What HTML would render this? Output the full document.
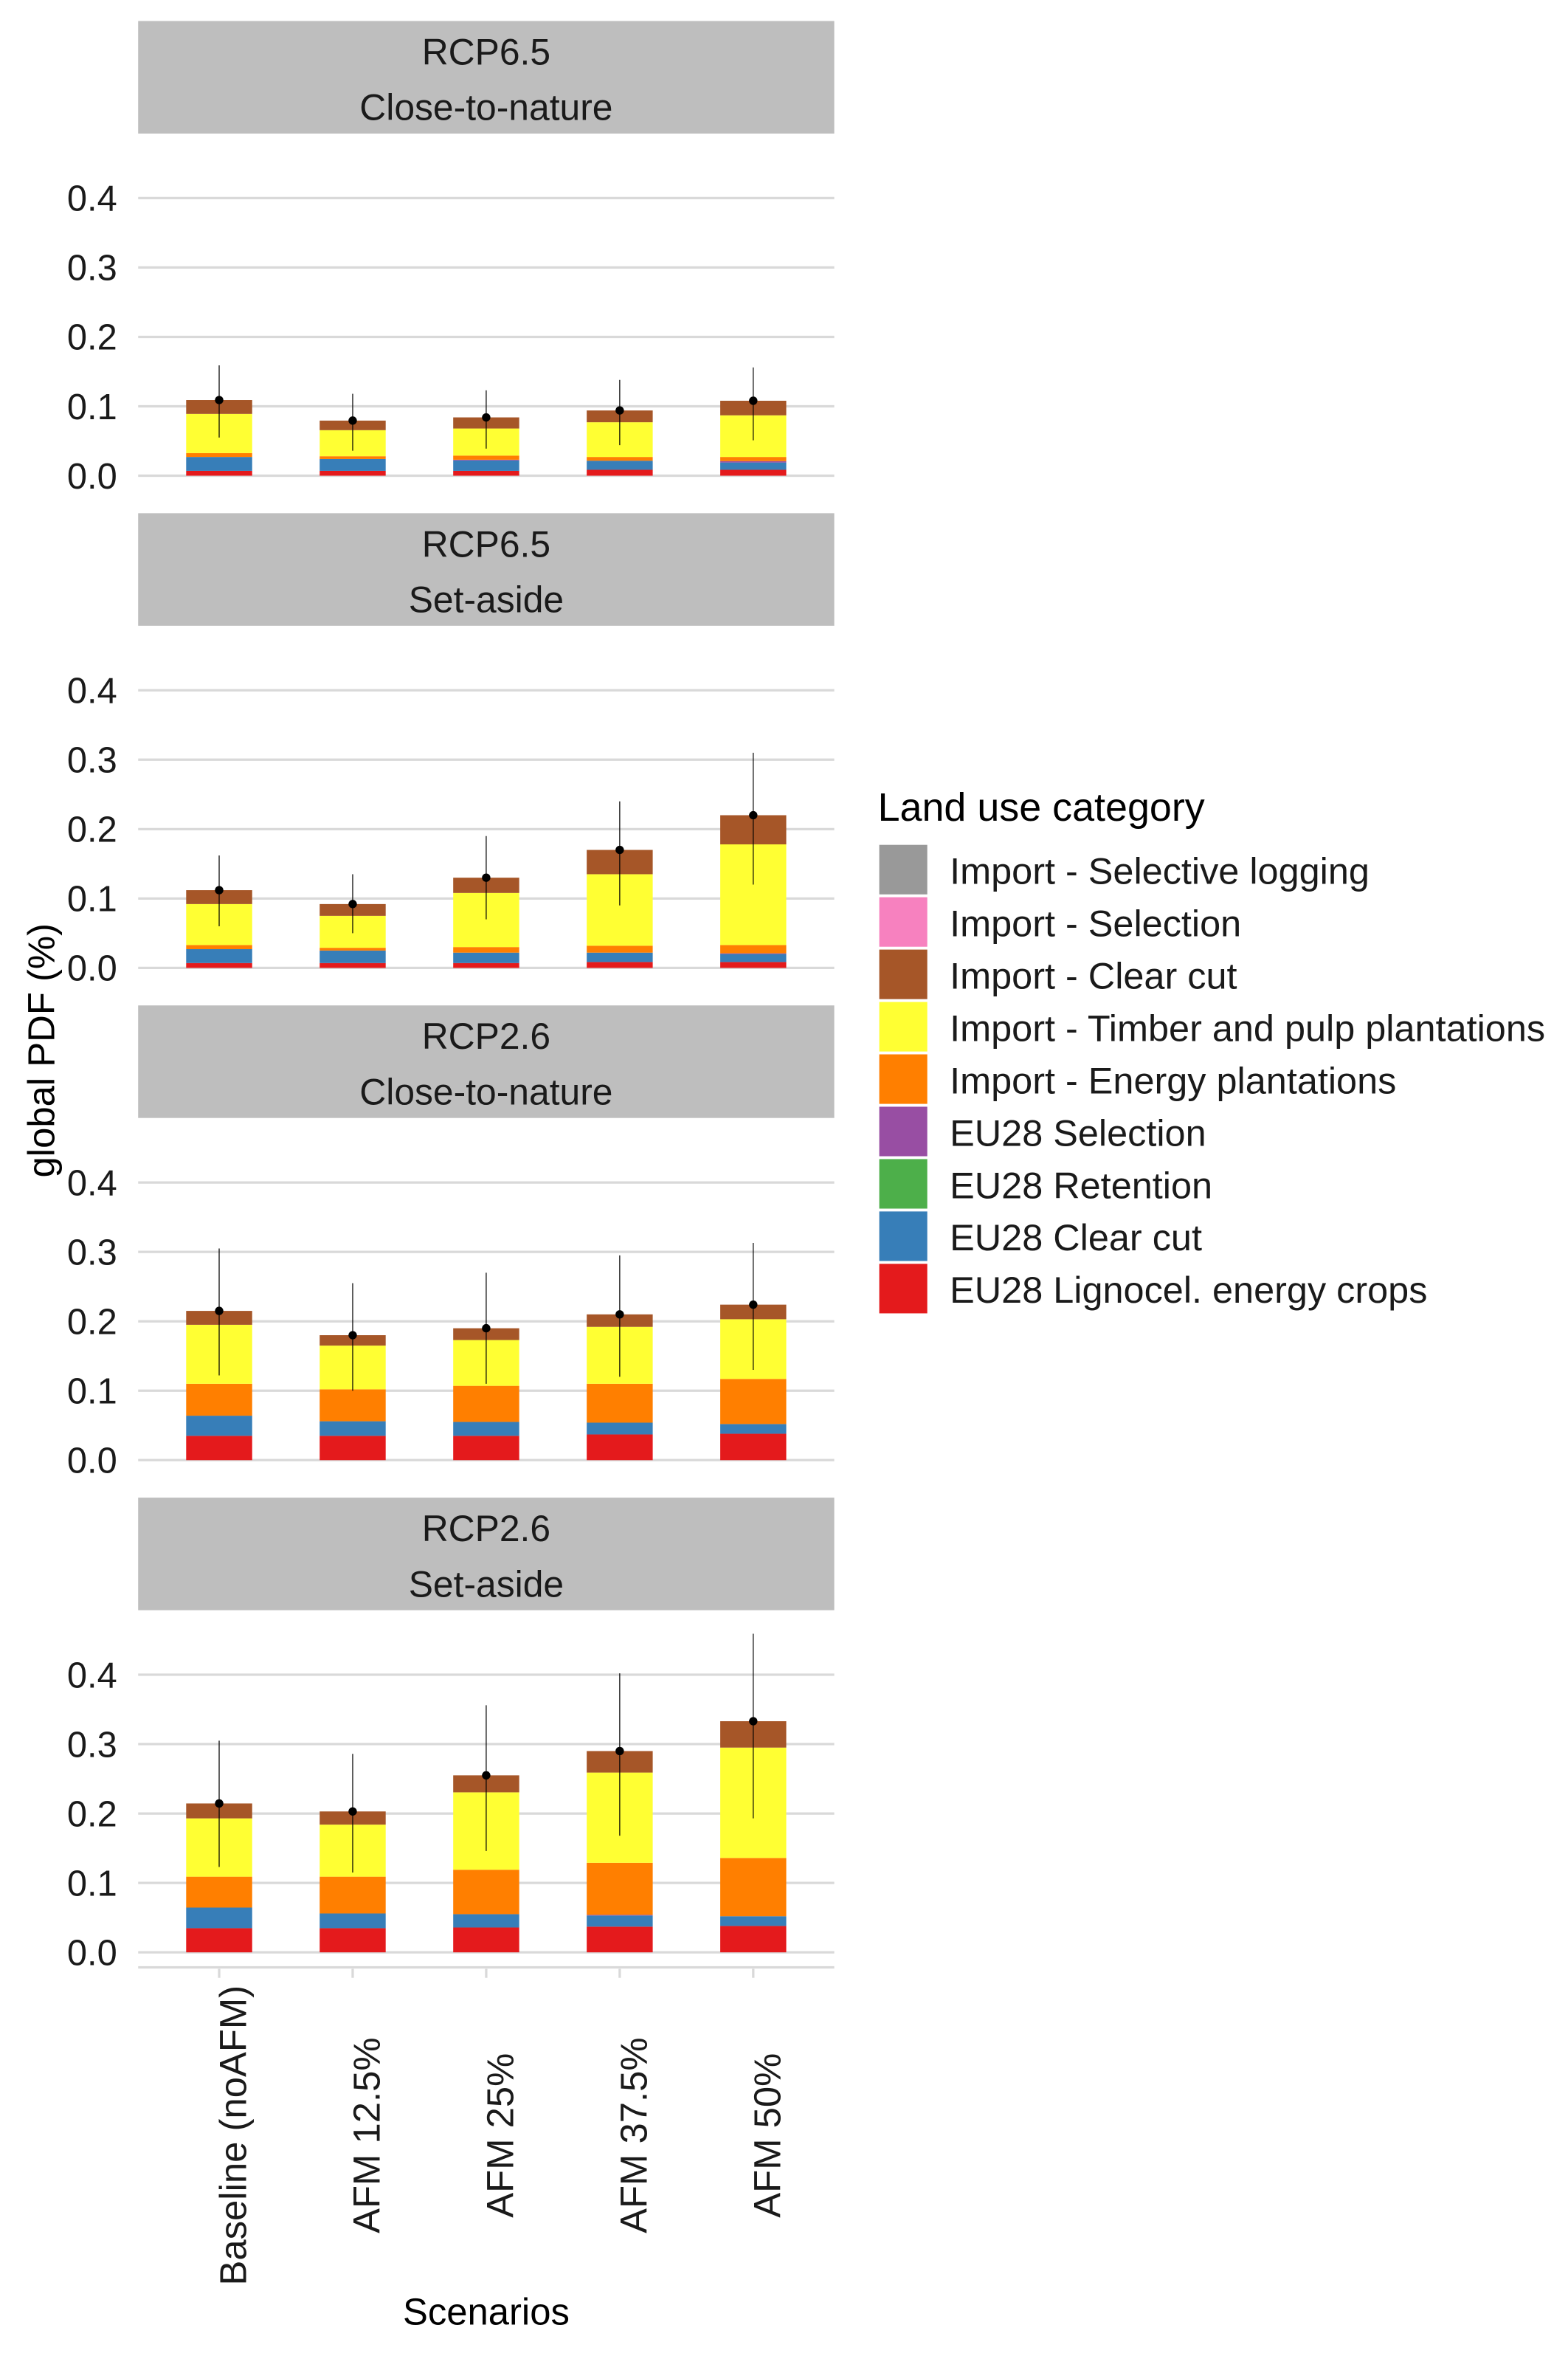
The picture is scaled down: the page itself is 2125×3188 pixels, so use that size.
<!DOCTYPE html>
<html><head><meta charset="utf-8"><style>
html,body{margin:0;padding:0;background:#fff;}
svg{display:block;font-family:"Liberation Sans",Arial,sans-serif;}
</style></head><body>
<svg id="chart" width="2125" height="3188" viewBox="0 0 1045 1568" xmlns="http://www.w3.org/2000/svg">
<g id="root"></g>
</svg>
<script>
const categories = ["Baseline (noAFM)", "AFM 12.5%", "AFM 25%", "AFM 37.5%", "AFM 50%"];
const panelTitles = [["RCP6.5","Close-to-nature"],["RCP6.5","Set-aside"],["RCP2.6","Close-to-nature"],["RCP2.6","Set-aside"]];
const yTicks = [0, 0.1, 0.2, 0.3, 0.4];
const yTickLabels = ["0.0","0.1","0.2","0.3","0.4"];
const seriesNames = ["EU28 Lignocel. energy crops","EU28 Clear cut","EU28 Retention","EU28 Selection","Import - Energy plantations","Import - Timber and pulp plantations","Import - Clear cut"];
const seriesColors = ["#E41A1C","#377EB8","#4DAF4A","#984EA3","#FF7F00","#FFFF33","#A65628"];
const legendNames = ["Import - Selective logging","Import - Selection","Import - Clear cut","Import - Timber and pulp plantations","Import - Energy plantations","EU28 Selection","EU28 Retention","EU28 Clear cut","EU28 Lignocel. energy crops"];
const legendColors = ["#999999","#F781BF","#A65628","#FFFF33","#FF7F00","#984EA3","#4DAF4A","#377EB8","#E41A1C"];
const p1Red = [0.007,0.007,0.007,0.0085,0.0085];
const p1Blue = [0.020,0.017,0.015,0.0131,0.0105];
const p1Green = [0,0,0,0,0];
const p1Purple = [0,0,0.001,0,0.002];
const p1Orange = [0.0056,0.004,0.006,0.0054,0.006];
const p1Yellow = [0.0564,0.0376,0.039,0.050,0.060];
const p1Brown = [0.020,0.0138,0.016,0.017,0.021];
const p1Hi = [0.159,0.118,0.123,0.138,0.156];
const p1Lo = [0.055,0.036,0.039,0.044,0.051];
const p2Red = [0.007,0.007,0.007,0.0085,0.0085];
const p2Blue = [0.020,0.018,0.015,0.0135,0.0115];
const p2Green = [0,0,0,0,0];
const p2Purple = [0,0,0,0,0.001];
const p2Orange = [0.006,0.004,0.008,0.010,0.012];
const p2Yellow = [0.059,0.046,0.078,0.103,0.145];
const p2Brown = [0.020,0.017,0.022,0.035,0.042];
const p2Hi = [0.162,0.135,0.19,0.24,0.31];
const p2Lo = [0.06,0.05,0.07,0.09,0.12];
const p3Red = [0.035,0.035,0.035,0.037,0.038];
const p3Blue = [0.029,0.021,0.020,0.017,0.014];
const p3Green = [0,0,0,0,0];
const p3Purple = [0,0,0,0,0];
const p3Orange = [0.046,0.046,0.052,0.056,0.065];
const p3Yellow = [0.085,0.063,0.066,0.082,0.086];
const p3Brown = [0.020,0.015,0.017,0.018,0.021];
const p3Hi = [0.305,0.255,0.27,0.295,0.313];
const p3Lo = [0.122,0.10,0.11,0.12,0.13];
const p4Red = [0.0348,0.0348,0.0358,0.037,0.038];
const p4Blue = [0.0297,0.0212,0.0192,0.016,0.014];
const p4Green = [0,0,0,0,0];
const p4Purple = [0,0,0,0.001,0];
const p4Orange = [0.0445,0.053,0.064,0.075,0.084];
const p4Yellow = [0.084,0.075,0.1115,0.130,0.159];
const p4Brown = [0.0215,0.019,0.0245,0.031,0.038];
const p4Hi = [0.305,0.286,0.356,0.402,0.459];
const p4Lo = [0.123,0.115,0.146,0.168,0.193];

const panels = [
 {segs:[p1Red,p1Blue,p1Green,p1Purple,p1Orange,p1Yellow,p1Brown],hi:p1Hi,lo:p1Lo},
 {segs:[p2Red,p2Blue,p2Green,p2Purple,p2Orange,p2Yellow,p2Brown],hi:p2Hi,lo:p2Lo},
 {segs:[p3Red,p3Blue,p3Green,p3Purple,p3Orange,p3Yellow,p3Brown],hi:p3Hi,lo:p3Lo},
 {segs:[p4Red,p4Blue,p4Green,p4Purple,p4Orange,p4Yellow,p4Brown],hi:p4Hi,lo:p4Lo}
];

const NS="http://www.w3.org/2000/svg";
const root=document.getElementById('root');
function mk(tag,attrs,parent){const e=document.createElementNS(NS,tag);for(const k in attrs)e.setAttribute(k,attrs[k]);(parent||root).appendChild(e);return e;}
const X0=92,X1=556,PANEL_STEP=328,ZERO0=317,UNIT=462.5;
function xPos(i){return 146+i*89;}
const BW=44;

panels.forEach((p,pi)=>{
  const off=pi*PANEL_STEP;
  const yScale=v=>ZERO0+off-v*UNIT;
  const g=mk('g',{});
  
  
  const strip=mk('rect',{x:X0,y:14+off,width:X1-X0,height:75,fill:'#BEBEBE'},g);
  
  
  const t1=mk('text',{x:324,y:43+off,'font-size':24.5,'text-anchor':'middle',fill:'#1a1a1a'},g);t1.textContent=panelTitles[pi][0];
  
  
  const t2=mk('text',{x:324,y:80+off,'font-size':24.5,'text-anchor':'middle',fill:'#1a1a1a'},g);t2.textContent=panelTitles[pi][1];
  
  
  yTicks.forEach((v,ti)=>{
    const gl=mk('line',{x1:X0,x2:X1,y1:yScale(v),y2:yScale(v),stroke:'#D9D9D9','stroke-width':1.6},g);
    
    
    const tl=mk('text',{x:78,y:yScale(v)+8.5,'font-size':24,'text-anchor':'end',fill:'#1a1a1a'},g);tl.textContent=yTickLabels[ti];
    
    
  });
  categories.forEach((c,ci)=>{
    let cum=0;
    p.segs.forEach((s,si)=>{
      const v=s[ci]; if(v<=0) return;
      const r=mk('rect',{x:xPos(ci)-BW/2,y:yScale(cum+v),width:BW,height:v*UNIT,fill:seriesColors[si]},g);
      
      
      cum+=v;
    });
    const el=mk('line',{x1:xPos(ci),x2:xPos(ci),y1:yScale(p.hi[ci]),y2:yScale(p.lo[ci]),stroke:'#000','stroke-width':0.6},g);
    
    
    const d=mk('circle',{cx:xPos(ci),cy:yScale(cum),r:2.8,fill:'#000'},g);
    
    
  });
});
const ax=mk('line',{x1:X0,x2:X1,y1:1311,y2:1311,stroke:'#D9D9D9','stroke-width':1.6});


categories.forEach((c,ci)=>{
  const tk=mk('line',{x1:xPos(ci),x2:xPos(ci),y1:1312,y2:1318,stroke:'#D9D9D9','stroke-width':1.6});
  
  
  const tl=mk('text',{x:0,y:0,'font-size':25,'text-anchor':'middle',fill:'#1a1a1a',transform:'translate('+(xPos(ci)+18)+',1423) rotate(-90)'});
  tl.textContent=c;
  
  
});
const xt=mk('text',{x:324,y:1549,'font-size':25,'text-anchor':'middle',fill:'#000'});xt.textContent='Scenarios';


const yt=mk('text',{x:0,y:0,'font-size':25,'text-anchor':'middle',fill:'#000',transform:'translate(36,700) rotate(-90)'});yt.textContent='global PDF (%)';


const lg=mk('g',{});


const lt=mk('text',{x:585,y:547,'font-size':26.5,fill:'#000'},lg);lt.textContent='Land use category';


legendNames.forEach((n,i)=>{
  const y=563+i*34.9;
  const r=mk('rect',{x:586,y:y,width:32,height:33,fill:legendColors[i]},lg);
  
  
  const t=mk('text',{x:633,y:y+26,'font-size':24.8,fill:'#1a1a1a'},lg);t.textContent=n;
  
  
});
</script>
</body></html>
